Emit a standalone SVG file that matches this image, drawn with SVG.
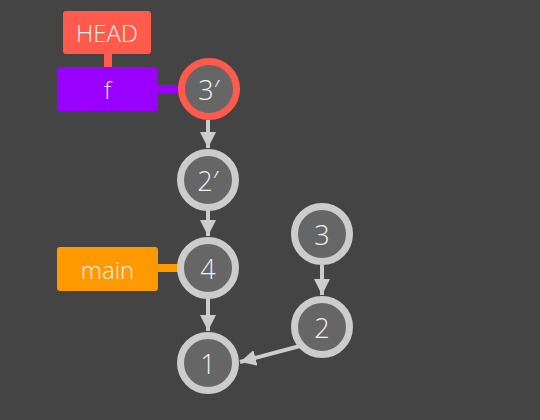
<svg xmlns="http://www.w3.org/2000/svg" width="540" height="420" viewBox="0 0 540 420">
<style>
.c{fill:#666;stroke:#ccc;stroke-width:7}
.h{stroke:#ff5a4b}
.t{font-family:"Open Sans",sans-serif;font-size:24px;font-weight:300;fill:#f0f0f0;text-anchor:middle;dominant-baseline:central}
.n{font-size:27px}
.e{stroke:#ccc;stroke-width:4;fill:none;marker-end:url(#a)}
</style>
<defs>
<marker id="a" markerWidth="4" markerHeight="4" refX="4" refY="2" orient="auto" markerUnits="strokeWidth">
<path d="M0,0 L4,2 L0,4 Z" fill="#ccc"/>
</marker>
</defs>
<rect width="540" height="420" fill="#444"/>
<g id="connectors">
<line class="e" x1="208" y1="120" x2="208" y2="148"/>
<line class="e" x1="208" y1="211" x2="208" y2="236"/>
<line class="e" x1="208" y1="299" x2="208" y2="331"/>
<line class="e" x1="322" y1="265" x2="322" y2="295"/>
<line class="e" x1="300" y1="346" x2="240" y2="362"/>
<line x1="108" y1="53" x2="108" y2="68" stroke="#ff5a4b" stroke-width="8"/>
<line x1="157" y1="89" x2="180" y2="89" stroke="#9900ff" stroke-width="8"/>
<line x1="157" y1="268" x2="180" y2="268" stroke="#ff9900" stroke-width="8"/>
</g>
<g id="HEAD"><rect x="63" y="11" width="88" height="43" rx="3" fill="#ff5a4b"/><text class="t" x="107" y="32">HEAD</text></g>
<g id="f"><rect x="57" y="67" width="101" height="44" rx="3" fill="#9900ff"/><text class="t" x="107.5" y="89">f</text></g>
<g id="main"><rect x="57" y="247" width="101" height="44" rx="3" fill="#ff9900"/><text class="t" x="107.5" y="269">main</text></g>
<g id="n3p"><circle class="c h" cx="209" cy="89" r="27.5"/><text class="t n" x="209" y="89">3′</text></g>
<g id="n2p"><circle class="c" cx="208" cy="180" r="27.5"/><text class="t n" x="208" y="180">2′</text></g>
<g id="n4"><circle class="c" cx="208" cy="268" r="27.5"/><text class="t n" x="208" y="268">4</text></g>
<g id="n1"><circle class="c" cx="208" cy="363" r="27.5"/><text class="t n" x="208" y="363">1</text></g>
<g id="n3"><circle class="c" cx="322" cy="234" r="27.5"/><text class="t n" x="322" y="234">3</text></g>
<g id="n2"><circle class="c" cx="322" cy="327" r="27.5"/><text class="t n" x="322" y="327">2</text></g>
</svg>
